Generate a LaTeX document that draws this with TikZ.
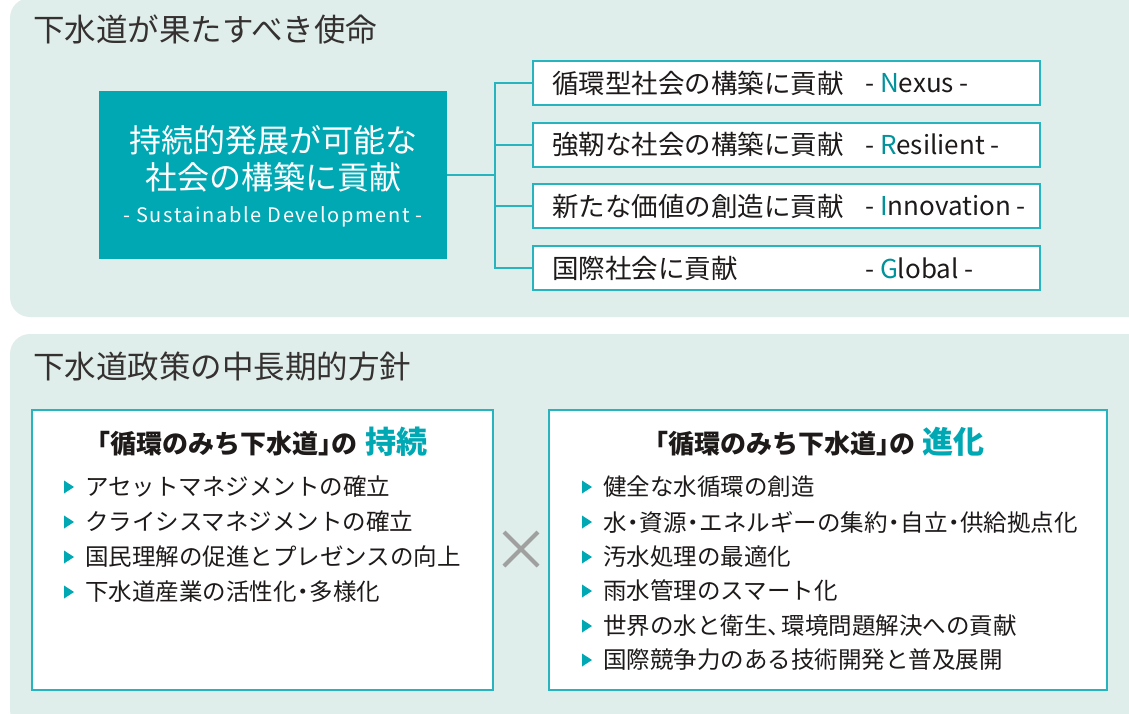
\documentclass[tikz,border=0pt]{standalone}
\usepackage{fontspec}
\setmainfont{Noto Sans CJK JP}
\definecolor{panel}{RGB}{223,238,234}
\definecolor{tealfill}{RGB}{0,168,180}
\definecolor{tealline}{RGB}{40,180,190}
\definecolor{tealtext}{RGB}{0,147,156}
\definecolor{txt}{RGB}{30,26,26}
\definecolor{xgray}{RGB}{160,160,160}
\newcommand{\nkdot}{\makebox[.55em]{・}}
\newcommand{\tten}{\makebox[.6em][l]{、}}
\newcommand{\lbk}{\makebox[.5em][r]{「}}
\newcommand{\rbk}{\makebox[.5em][l]{」}}
\tikzset{
  panelbox/.style={fill=panel, draw=none, rounded corners=20pt},
  title/.style={anchor=west, inner sep=0pt, text=txt!90!white, font=\fontsize{31.5}{31.5}\selectfont},
  tealbox/.style={fill=tealfill, draw=none, inner sep=0pt},
  whitebox/.style={fill=white, draw=tealline, line width=2pt, inner sep=0pt},
  conn/.style={draw=tealline, line width=2pt},
  boxjp/.style={anchor=west, inner sep=0pt, text=txt, font=\fontsize{26.5}{26.5}\selectfont},
  boxen/.style={anchor=west, inner sep=0pt, text=txt, font=\fontsize{26}{26}\selectfont},
  bullet/.style={anchor=west, inner sep=0pt, text=txt, font=\fontsize{23.5}{23.5}\selectfont},
  head/.style={inner sep=0pt, text=txt, font=\bfseries\fontsize{26}{26}\selectfont},
  tri/.style={fill=tealfill, draw=none},
}
\begin{document}
\begin{tikzpicture}[x=1pt,y=-1pt]
\useasboundingbox (0,0) rectangle (1129,713);
\fill[white] (0,0) rectangle (1129,713);
% panels
\path[panelbox] (10,-2) rectangle (1150,317);
\path[panelbox] (10,334) rectangle (1150,730);
% titles
\node[title] (t1) at (33,29) {下水道が果たすべき使命};
\node[title] (t2) at (33,367) {下水道政策の中長期的方針};
% central teal box
\node[tealbox, minimum width=348pt, minimum height=168pt] (sd) at (273,175) {};
\node[inner sep=0pt, text=white, font=\fontsize{32}{32}\selectfont] (sd1) at (273,140) {持続的発展が可能な};
\node[inner sep=0pt, text=white, font=\fontsize{32}{32}\selectfont] (sd2) at (273,177) {社会の構築に貢献};
\node[inner sep=0pt, text=white, font=\addfontfeatures{LetterSpace=8}\fontsize{20}{20}\selectfont] (sd3) at (273,217) {- Sustainable Development -};
% right boxes
\foreach \i/\y in {1/83,2/144.5,3/206,4/268}{
  \node[whitebox, minimum width=507pt, minimum height=44pt] (b\i) at (786.5,\y) {};
}
\node[boxjp] (j1) at (552,83) {循環型社会の構築に貢献};
\node[boxjp] (j2) at (552,144.5) {強靭な社会の構築に貢献};
\node[boxjp] (j3) at (552,206) {新たな価値の創造に貢献};
\node[boxjp] (j4) at (552,268) {国際社会に貢献};
\node[boxen] (e1) at (865,83) {- \textcolor{tealtext}{N}exus -};
\node[boxen] (e2) at (865,144.5) {- \textcolor{tealtext}{R}esilient -};
\node[boxen] (e3) at (865,206) {- \textcolor{tealtext}{I}nnovation -};
\node[boxen] (e4) at (865,268) {- \textcolor{tealtext}{G}lobal -};
% connectors
\coordinate (hub) at (495,175);
\draw[conn] (sd.east) -- (hub);
\draw[conn, line cap=rect] (hub |- b1.west) -- (hub |- b4.west);
\foreach \i in {1,...,4}{ \draw[conn] (hub |- b\i.west) -- (b\i.west); }
% bottom boxes
\node[whitebox, minimum width=461pt, minimum height=280pt] (lb) at (262.5,550) {};
\node[whitebox, minimum width=558pt, minimum height=280pt] (rb) at (828,550) {};
\node[head] (lh) at (262.5,442) {\lbk 循環のみち下水道\rbk の\hspace{.3em}\textcolor{tealfill}{\fontsize{31}{31}\selectfont 持続}};
\node[head] (rh) at (820,442) {\lbk 循環のみち下水道\rbk の\hspace{.3em}\textcolor{tealfill}{\fontsize{31}{31}\selectfont 進化}};
% left bullets
\foreach \y/\t [count=\k] in {487/アセットマネジメントの確立,522/クライシスマネジメントの確立,557/国民理解の促進とプレゼンスの向上,592/下水道産業の活性化\nkdot 多様化}{
  \node[bullet] (lt\k) at (85,\y) {\t};
  \fill[tri] (64,\y-6.5) -- (74,\y) -- (64,\y+6.5) -- cycle;
}
% right bullets
\foreach \y/\t [count=\k] in {487/健全な水循環の創造,522/水\nkdot 資源\nkdot エネルギーの集約\nkdot 自立\nkdot 供給拠点化,557/汚水処理の最適化,591/雨水管理のスマート化,626/世界の水と衛生\tten 環境問題解決への貢献,660/国際競争力のある技術開発と普及展開}{
  \node[bullet] (rt\k) at (603,\y) {\t};
  \fill[tri] (582,\y-6.5) -- (592,\y) -- (582,\y+6.5) -- cycle;
}
% cross
\coordinate (xc) at (521,549);
\draw[xgray, line width=4pt] ([shift={(-17,-17)}]xc) -- ([shift={(17,17)}]xc);
\draw[xgray, line width=4pt] ([shift={(-17,17)}]xc) -- ([shift={(17,-17)}]xc);
\end{tikzpicture}
\end{document}
